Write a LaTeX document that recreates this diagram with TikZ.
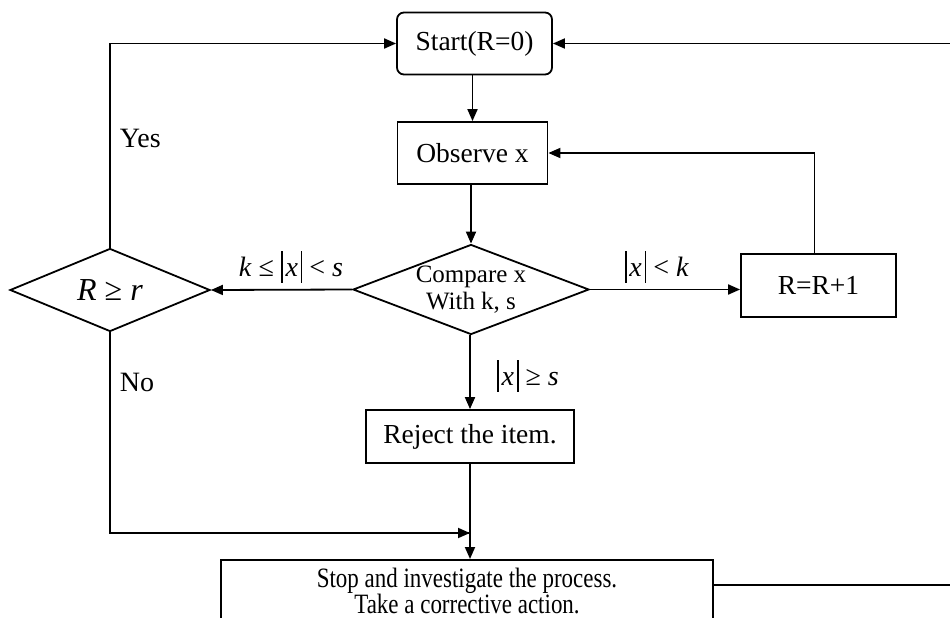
\documentclass[tikz,border=0pt]{standalone}
\usepackage{fontspec}
\usepackage{graphicx}
\setmainfont{Liberation Serif}
\usetikzlibrary{shapes.geometric,arrows.meta}
\newcommand\barv{\rule[-0.22em]{0.06em}{1.12em}}
\newcommand\absx{\barv\kern0.1em\textit{x}\kern0.1em\barv}
\begin{document}
\begin{tikzpicture}[x=1pt,y=-1pt,
  line width=1.8pt,
  arr/.style={-{Triangle[length=12pt,width=10pt]}},
  box/.style={draw,rectangle,inner sep=0pt,font=\fontsize{27.5}{31}\selectfont},
  dia/.style={draw,diamond,inner sep=0pt},
  lbl/.style={font=\fontsize{28}{31}\selectfont,inner sep=0pt}]
\useasboundingbox (0,0) rectangle (950,618);
\clip (0,0) rectangle (950,618);
% nodes
\node[box,rounded corners=7pt,minimum width=155pt,minimum height=62pt] (start) at (474.5,43.5) {Start(R=0)};
\node[box,minimum width=150pt,minimum height=62pt] (obs) at (472.5,153) {Observe x};
\node[dia,shape aspect=2.6,minimum width=236pt,minimum height=90pt,align=center,
  font=\fontsize{25}{27}\selectfont] (cmp) at (471,289.5) {Compare x\\With k, s};
\node[dia,shape aspect=2.4,minimum width=200pt,minimum height=83pt,
  font=\fontsize{32}{36}\selectfont] (rr) at (110,290) {\textit{R} ≥ \textit{r}};
\node[box,minimum width=155pt,minimum height=63pt] (inc) at (818.5,285.5) {R=R+1};
\node[box,minimum width=208pt,minimum height=53pt] (rej) at (470,436.5) {Reject the item.};
\node[box,anchor=north,minimum width=492pt,align=center,inner ysep=8pt,
  font=\fontsize{28}{24}\selectfont] (stop) at (467,559)
  {\scalebox{0.82}[1]{Stop and investigate the process.}\\\scalebox{0.82}[1]{Take a corrective action.}};
% coordinates
\coordinate (rc) at (956,43.5);
\coordinate (j) at (470,533);
% connectors
\draw[arr] (obs.north |- start.south) -- (obs.north);
\draw[arr] (cmp.north |- obs.south) -- (cmp.north);
\draw[arr] (cmp.west) -- (rr.east);
\draw[arr] (cmp.east) -- (cmp.east -| inc.west);
\draw[arr] ([xshift=-4pt]inc.north) |- (obs.east);
\draw[arr] (rr.north) |- (start.west);
\draw (rr.south) |- (j);
\draw[arr] (rej.north |- cmp.south) -- (rej.north);
\draw[arr] (rej.south) -- (rej.south |- stop.north);
\draw[arr] ([yshift=-26pt]stop.north east) -| (rc) -- (start.east);
\draw[arr] (rr.south |- j) -- (j);
% labels
\node[lbl,anchor=west] (yes) at (119,138) {Yes};
\node[lbl,anchor=west] (no) at (119,382) {No};
\node[lbl] (l1) at (291,267) {\textit{k} ≤ \absx\ < \textit{s}};
\node[lbl] (l2) at (657,267) {\absx\ < \textit{k}};
\node[lbl] (l3) at (528,376) {\absx\ ≥ \textit{s}};
\end{tikzpicture}
\end{document}
